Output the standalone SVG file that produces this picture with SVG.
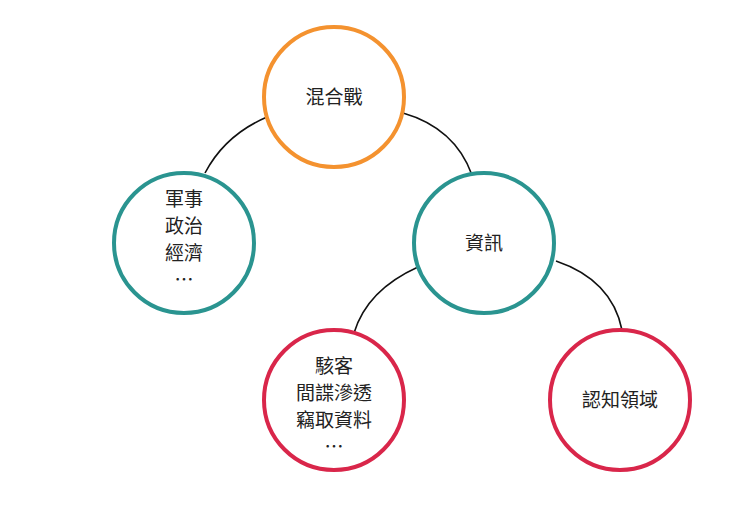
<svg xmlns="http://www.w3.org/2000/svg" width="740" height="526" viewBox="0 0 740 526">
<style>
.n{fill:#fff;stroke-width:4}
.o{stroke:#F4922F}.t{stroke:#2A9490}.r{stroke:#D9264A}
text{font-family:"Noto Sans CJK TC","Noto Sans CJK SC",sans-serif;font-size:19px;fill:#222;text-anchor:middle}
.c{fill:none;stroke:#111;stroke-width:1.6}
</style>
<rect width="740" height="526" fill="#fff"/>
<g id="connectors">
<path class="c" d="M267,117 Q225,135 205,173"/>
<path class="c" d="M403,113 Q455,128 472,175"/>
<path class="c" d="M418,267 Q367,290 354,333"/>
<path class="c" d="M556,261 Q612,280 622,330"/>
</g>
<g id="n1"><circle class="n o" cx="334" cy="97" r="70"/><text x="334" y="104">混合戰</text></g>
<g id="n2"><circle class="n t" cx="184" cy="243" r="70"/><text x="184" y="206">軍事</text><text x="184" y="233">政治</text><text x="184" y="260">經濟</text><text x="184" y="287">…</text></g>
<g id="n3"><circle class="n t" cx="484" cy="243" r="70"/><text x="484" y="250">資訊</text></g>
<g id="n4"><circle class="n r" cx="334" cy="400" r="70"/><text x="334" y="373">駭客</text><text x="334" y="400">間諜滲透</text><text x="334" y="427">竊取資料</text><text x="334" y="454">…</text></g>
<g id="n5"><circle class="n r" cx="620" cy="400" r="70"/><text x="620" y="407">認知領域</text></g>
</svg>
